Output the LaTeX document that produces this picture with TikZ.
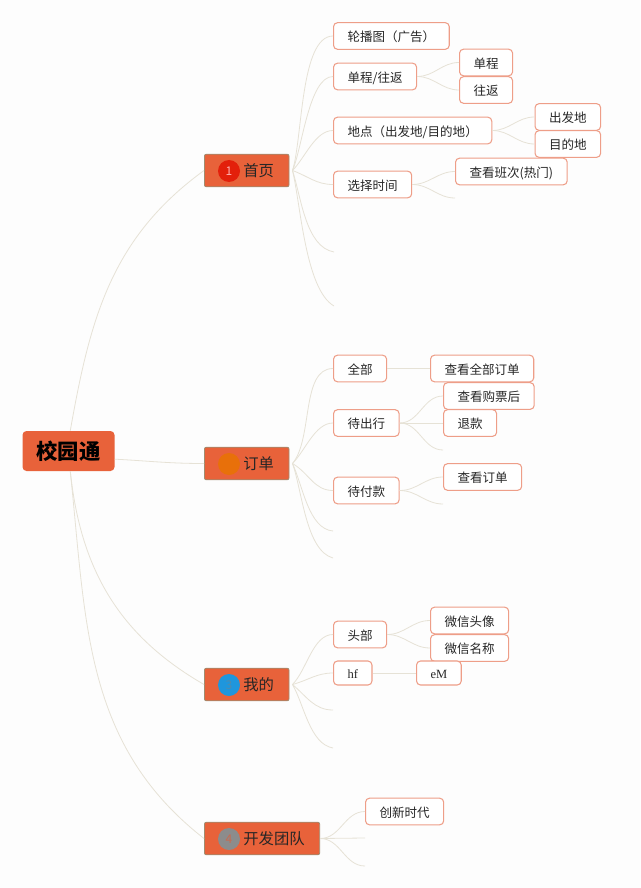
\documentclass[tikz,border=0pt]{standalone}
\usepackage{xcolor}
\usepackage{fontspec}
\setmainfont{Noto Sans CJK SC}
\newfontfamily\serifpart{Liberation Serif}
\definecolor{bgcol}{HTML}{FDFDFD}
\definecolor{orangecol}{HTML}{E8623A}
\definecolor{edgecol}{HTML}{EE9E88}
\definecolor{linkcol}{HTML}{E6E2D6}
\definecolor{topedge}{HTML}{A08C70}
\definecolor{redball}{HTML}{E3200B}
\definecolor{orangeball}{HTML}{E8700A}
\definecolor{blueball}{HTML}{1F96DC}
\definecolor{greyball}{HTML}{8C8C8C}
\tikzset{
    rootbox/.style={rectangle, rounded corners=3pt, fill=orangecol, font=\fontsize{16}{18}\selectfont\bfseries, text=black, minimum height=30pt, inner xsep=10.5pt},
    topbox/.style={rectangle, rounded corners=1.5pt, fill=orangecol, draw=topedge, line width=0.6pt, font=\fontsize{11.5}{14}\selectfont, text=black!85, minimum height=24.5pt, inner xsep=11.25pt, inner ysep=0pt, anchor=west},
    subbox/.style={rectangle, rounded corners=3pt, fill=white, draw=edgecol, line width=0.8pt, font=\fontsize{9.4}{12}\selectfont, text=black!85, minimum height=20pt, inner xsep=10.5pt, inner ysep=0pt, text height=9.3pt, text depth=0.6pt, anchor=west},
    iconball/.style={circle, minimum size=16.5pt, inner sep=0pt, font=\fontsize{9}{10}\selectfont},
    link/.style={draw=linkcol, line width=0.6pt},
}
\begin{document}
\begin{tikzpicture}[x=0.75pt,y=-0.75pt]
    \useasboundingbox[fill=bgcol] (0,0) rectangle (640,888);

    \node[rootbox] (root) at (68.5,451) {校园通};

    \node[topbox] (home) at (204,170.5) {\hspace*{18pt}首页};
    \node[topbox] (order) at (204,463.5) {\hspace*{18pt}订单};
    \node[topbox] (mine) at (204,684.5) {\hspace*{18pt}我的};
    \node[topbox] (team) at (204,838.5) {\hspace*{18pt}开发团队};

    \node[iconball, fill=redball, text=red!30!white] (homeicon) at (229,171) {1};
    \node[iconball, fill=orangeball] (ordericon) at (229,464) {};
    \node[iconball, fill=blueball, text=blueball!50!gray] (mineicon) at (229,685) {3};
    \node[iconball, fill=greyball, text=orangecol!70!gray] (teamicon) at (229,839) {4};

    % home branch
    \node[subbox] (banner) at (333,36) {轮播图（广告）};
    \node[subbox] (trip) at (333,76.5) {单程/往返};
    \node[subbox] (oneway) at (459,62.5) {单程};
    \node[subbox] (round) at (459,90) {往返};
    \node[subbox] (place) at (333,130.5) {地点（出发地/目的地）};
    \node[subbox] (depart) at (534.5,117) {出发地};
    \node[subbox] (dest) at (534.5,144) {目的地};
    \node[subbox] (time) at (333,184.5) {选择时间};
    \node[subbox] (shift) at (455,171.5) {查看班次(热门)};
    \coordinate (timefree) at (455,198);
    \coordinate (homefreea) at (334,252);
    \coordinate (homefreeb) at (334,306);

    % order branch
    \node[subbox] (all) at (333,368.5) {全部};
    \node[subbox] (allorder) at (430,368.5) {查看全部订单};
    \node[subbox] (wait) at (333,423) {待出行};
    \node[subbox] (ticket) at (443,396) {查看购票后};
    \node[subbox] (refund) at (443,423) {退款};
    \coordinate (waitfree) at (443,450);
    \node[subbox] (pay) at (333,490.5) {待付款};
    \node[subbox] (payorder) at (443,477) {查看订单};
    \coordinate (payfree) at (443,504);
    \coordinate (orderfreea) at (333,531);
    \coordinate (orderfreeb) at (333,558);

    % mine branch
    \node[subbox] (head) at (333,634.5) {头部};
    \node[subbox] (avatar) at (430,620.5) {微信头像};
    \node[subbox] (wxname) at (430,648) {微信名称};
    \node[subbox, minimum height=18pt] (hf) at (333,673) {\serifpart hf};
    \node[subbox, minimum height=18pt] (em) at (416,673) {\serifpart eM};
    \coordinate (minefreea) at (333,710);
    \coordinate (minefreeb) at (333,748);

    % team branch
    \node[subbox] (inno) at (365,811.5) {创新时代};
    \coordinate (teamfreea) at (365,838);
    \coordinate (teamfreeb) at (365,866);

    \draw[link] (root.85) to[out=80,in=216] (home.west);
    \draw[link] (root.-10) to[out=-3,in=180] (order.west);
    \draw[link] (root.-85) to[out=-84,in=150] (mine.west);
    \draw[link] (root.-85) to[out=-84,in=142] (team.west);

    \draw[link] (home.east) ++(3,0) to[out=72,in=180,looseness=0.6] (banner.west);
    \draw[link] (home.east) ++(3,0) to[out=66,in=180,looseness=0.6] (trip.west);
    \draw[link] (home.east) ++(3,0) to[out=45,in=180,looseness=0.8] (place.west);
    \draw[link] (home.east) ++(3,0) to[out=-20,in=180] (time.west);
    \draw[link] (home.east) ++(3,0) to[out=-72,in=170,looseness=0.8] (homefreea);
    \draw[link] (home.east) ++(3,0) to[out=-76,in=150,looseness=0.6] (homefreeb);
    \draw[link] (trip.east) to[out=0,in=180] (oneway.west);
    \draw[link] (trip.east) to[out=0,in=180] (round.west);
    \draw[link] (place.east) to[out=0,in=180] (depart.west);
    \draw[link] (place.east) to[out=0,in=180] (dest.west);
    \draw[link] (time.east) to[out=0,in=180] (shift.west);
    \draw[link] (time.east) to[out=0,in=180] (timefree);

    \draw[link] (order.east) ++(3,0) to[out=50,in=180,looseness=0.8] (all.west);
    \draw[link] (order.east) ++(3,0) to[out=45,in=180,looseness=0.8] (wait.west);
    \draw[link] (order.east) ++(3,0) to[out=-30,in=180] (pay.west);
    \draw[link] (order.east) ++(3,0) to[out=-65,in=175,looseness=0.8] (orderfreea);
    \draw[link] (order.east) ++(3,0) to[out=-70,in=165,looseness=0.7] (orderfreeb);
    \draw[link] (all.east) -- (allorder.west);
    \draw[link] (wait.east) to[out=0,in=180] (ticket.west);
    \draw[link] (wait.east) -- (refund.west);
    \draw[link] (wait.east) to[out=0,in=180] (waitfree);
    \draw[link] (pay.east) to[out=0,in=180] (payorder.west);
    \draw[link] (pay.east) to[out=0,in=180] (payfree);

    \draw[link] (mine.east) ++(3,0) to[out=45,in=180,looseness=0.8] (head.west);
    \draw[link] (mine.east) ++(3,0) to[out=15,in=180] (hf.west);
    \draw[link] (mine.east) ++(3,0) to[out=-40,in=180] (minefreea);
    \draw[link] (mine.east) ++(3,0) to[out=-60,in=170,looseness=0.8] (minefreeb);
    \draw[link] (head.east) to[out=0,in=180] (avatar.west);
    \draw[link] (head.east) to[out=0,in=180] (wxname.west);
    \draw[link] (hf.east) -- (em.west);

    \draw[link] (team.east) to[out=0,in=180] (inno.west);
    \draw[link] (team.east) -- (teamfreea);
    \draw[link] (team.east) to[out=0,in=180] (teamfreeb);
\end{tikzpicture}
\end{document}
